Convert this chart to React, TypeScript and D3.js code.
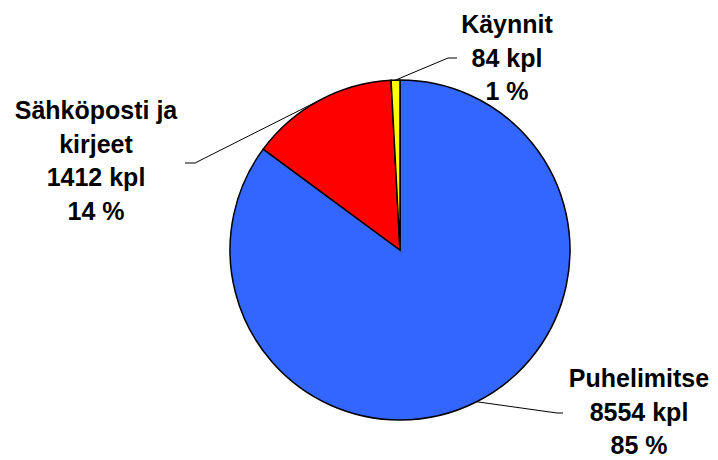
import * as d3 from "d3";

// data
const categories = ["Puhelimitse", "Sähköposti ja kirjeet", "Käynnit"];
const counts = [8554, 1412, 84];
const labelLines = [
  ["Puhelimitse", "8554 kpl", "85 %"],
  ["Sähköposti ja", "kirjeet", "1412 kpl", "14 %"],
  ["Käynnit", "84 kpl", "1 %"],
];
const colors = ["#3366FF", "#FF0000", "#FFFF00"];

// label layout: text centre x, first baseline y, elbow of leader, end of leader
const labelLayout = [
  {x: 639, y: 387, elbow: [557, 413], end: [563, 413]},
  {x: 96, y: 119, elbow: [195, 163], end: [185, 163]},
  {x: 507, y: 33, elbow: [448, 58], end: [457, 58]},
];

const W = 718, H = 460;
const cx = 400, cy = 250, r = 170;
const lineH = 33.5;

export default function App() {
  const pie = d3.pie<number>().sort(null).value(d => d);
  const arcs = pie(counts);
  const arc = d3.arc<d3.PieArcDatum<number>>().innerRadius(0).outerRadius(r);
  const edge = d3.arc<d3.PieArcDatum<number>>().innerRadius(r).outerRadius(r);

  return (
    <svg width={W} height={H} style={{position: "absolute", left: 0, top: 0, background: "#fff"}}
         fontFamily="'Liberation Sans', Arial, sans-serif">
      <g transform={`translate(${cx},${cy})`}>
        {arcs.map((a, i) => (
          <path key={categories[i]} d={arc(a) || ""} fill={colors[i]} stroke="#000" strokeWidth={1.5}/>
        ))}
      </g>
      {arcs.map((a, i) => {
        const [ex, ey] = edge.centroid(a);
        const L = labelLayout[i];
        return (
          <polyline key={"l" + i} fill="none" stroke="#000" strokeWidth={1}
                    points={`${cx + ex},${cy + ey} ${L.elbow[0]},${L.elbow[1]} ${L.end[0]},${L.end[1]}`}/>
        );
      })}
      {labelLines.map((lines, i) => (
        <text key={"t" + i} textAnchor="middle" fontWeight="bold" fontSize={25} fill="#000">
          {lines.map((s, j) => (
            <tspan key={j} x={labelLayout[i].x} y={labelLayout[i].y + j * lineH}>{s}</tspan>
          ))}
        </text>
      ))}
    </svg>
  );
}
